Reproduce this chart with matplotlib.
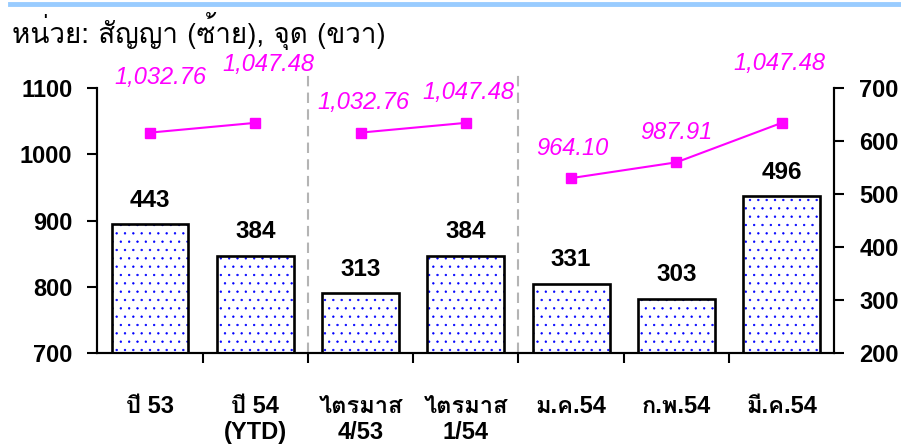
import matplotlib
matplotlib.use('Agg')
import matplotlib.pyplot as plt
import numpy as np

# categories and values
categories = ['ปี 53', 'ปี 54\n(YTD)', 'ไตรมาส\n4/53', 'ไตรมาส\n1/54', 'ม.ค.54', 'ก.พ.54', 'มี.ค.54']
contracts = [443, 384, 313, 384, 331, 303, 496]          # right axis, bars
index_pts = [1032.76, 1047.48, 1032.76, 1047.48, 964.10, 987.91, 1047.48]  # left axis, line
groups = [[0, 1], [2, 3], [4, 5, 6]]
separators = [2, 4]

# label offsets (pixels) for the magenta values
label_dx = [10, 13, 3, 3, 1, 0, -2]
label_dy = [55, 58, 30, 30, 30, 30, 59]

num_font = ['Liberation Sans', 'Loma']
pink = '#FF00FF'

plt.rcParams['hatch.linewidth'] = 0.45

fig = plt.figure(figsize=(9.01, 4.47), dpi=100)
ax = fig.add_axes([0.108, 0.210, 0.818, 0.593])
ax2 = ax.twinx()

x = np.arange(len(categories))

# bars on right axis: hatch layer, then black outline
ax2.bar(x, contracts, width=0.73, bottom=0, color='white', edgecolor='blue',
        hatch='..', linewidth=0, zorder=2)
ax2.bar(x, contracts, width=0.73, bottom=0, color='none', edgecolor='black',
        linewidth=1.9, zorder=3)
for xi, v in zip(x, contracts):
    ax2.annotate(str(v), (xi, v), xytext=(0, 9), textcoords='offset points',
                 ha='center', va='bottom', fontsize=17.5, fontweight='bold',
                 family=num_font, zorder=5)

ax2.set_ylim(200, 700)
ax2.set_yticks(range(200, 701, 100))

# line on left axis, drawn above bars
ax.set_zorder(ax2.get_zorder() + 1)
ax.patch.set_visible(False)
for g in groups:
    ax.plot([x[i] for i in g], [index_pts[i] for i in g], color=pink, lw=1.5,
            marker='s', markersize=7.5, zorder=4)
for i, v in enumerate(index_pts):
    s = '{:,.2f}'.format(v)
    ax.annotate(s, (x[i], v), xytext=(label_dx[i] * 0.72, label_dy[i] * 0.72),
                textcoords='offset points', ha='center', va='center',
                fontsize=17, style='italic', color=pink, family='Liberation Sans')

ax.set_ylim(700, 1100)
ax.set_yticks(range(700, 1101, 100))
ax.set_xlim(-0.5, len(categories) - 0.5)

# dashed separators
for s in separators:
    ax.plot([s - 0.5, s - 0.5], [0, 1.06], transform=ax.get_xaxis_transform(),
            color='#B4B4B4', lw=1.5, ls=(0, (5, 3)), clip_on=False, zorder=1)

ax.set_xticks(x)
ax.set_xticklabels(categories, fontsize=17, fontweight='bold', family=num_font,
                   linespacing=1.2, va='top')
ax.set_xticks(np.arange(0.5, len(categories) - 1, 1), minor=True)
ax.tick_params(axis='x', which='major', length=0, pad=30)
ax.tick_params(axis='x', which='minor', length=7, width=1.5, direction='out')

for a in (ax, ax2):
    a.spines['top'].set_visible(False)
    for sp in ('left', 'right', 'bottom'):
        a.spines[sp].set_linewidth(1.5)
    a.tick_params(axis='y', length=7, width=1.5, direction='out', pad=11)
for lab in ax.get_yticklabels() + ax2.get_yticklabels():
    lab.set_fontsize(17)
    lab.set_fontweight('bold')
    lab.set_family(num_font)
ax2.tick_params(axis='x', which='both', length=0)

# header rule and unit note
fig.add_artist(plt.Line2D([0.011, 1.0], [0.992, 0.992], color='#99CCFF', lw=3.5))
fig.text(0.013, 0.93, 'หน่วย: สัญญา (ซ้าย), จุด (ขวา)', fontsize=20,
         family=['Loma', 'DejaVu Sans'], va='center', ha='left')

fig.savefig('out.png', dpi=100)
